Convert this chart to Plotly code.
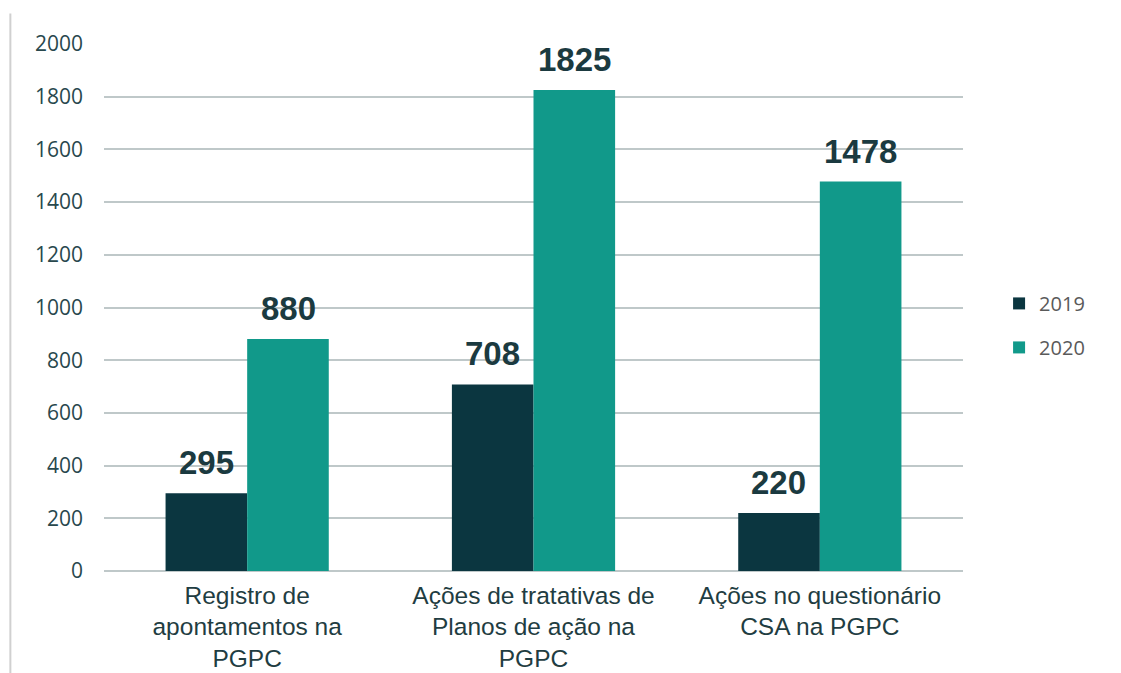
import plotly.graph_objects as go

categories = ["Registro de<br>apontamentos na<br>PGPC",
              "Ações de tratativas de<br>Planos de ação na<br>PGPC",
              "Ações no questionário<br>CSA na PGPC"]
values_2019 = [295, 708, 220]
values_2020 = [880, 1825, 1478]

fig = go.Figure()
fig.add_trace(go.Bar(x=categories, y=values_2019, name="2019", marker_color="#0b3640",
                     legendgroup="a"))
fig.add_trace(go.Bar(x=categories, y=values_2020, name="2020", marker_color="#11998a",
                     legendgroup="b"))
fig.update_traces(marker_line_width=0)

# value labels above the bars, set a bit higher than plotly's own "outside" text
label_font = dict(family="Liberation Sans", size=33, color="#1b3a40", weight="bold")
for vals, shift in [(values_2019, -41), (values_2020, 41)]:
    for cat, v in zip(categories, vals):
        fig.add_annotation(x=cat, y=v, text=str(v), showarrow=False, xshift=shift,
                           yanchor="bottom", yshift=10, font=label_font)

fig.update_layout(
    width=1121, height=673,
    barmode="group", bargap=0.43, bargroupgap=0,
    plot_bgcolor="white", paper_bgcolor="white",
    margin=dict(l=96, r=166, t=36, b=110, autoexpand=False),
    xaxis=dict(tickfont=dict(family="Liberation Sans", size=24.5, color="#1f3d42"),
               showgrid=False, ticks="", showline=False, ticklabelstandoff=7,
               automargin=False),
    yaxis=dict(range=[0, 2000], dtick=200, showgrid=True, gridcolor="#bfc8c9", gridwidth=2,
               zeroline=True, zerolinecolor="#bfc8c9", zerolinewidth=2,
               tickfont=dict(family="Open Sans", size=21, color="#28484d"), ticklabelstandoff=20),
    legend=dict(x=1.042, y=0.466, xanchor="left", yanchor="middle",
                font=dict(family="Open Sans", size=20, color="#5a5a5a"),
                traceorder="grouped", tracegroupgap=15),
    showlegend=True,
)

# thin grey line along the left edge of the picture
fig.add_shape(type="line", xref="paper", yref="paper", x0=-0.109, x1=-0.109, y0=1.058, y1=-0.25,
              line=dict(color="#d0d0d0", width=2))

fig.write_html("out.html")
